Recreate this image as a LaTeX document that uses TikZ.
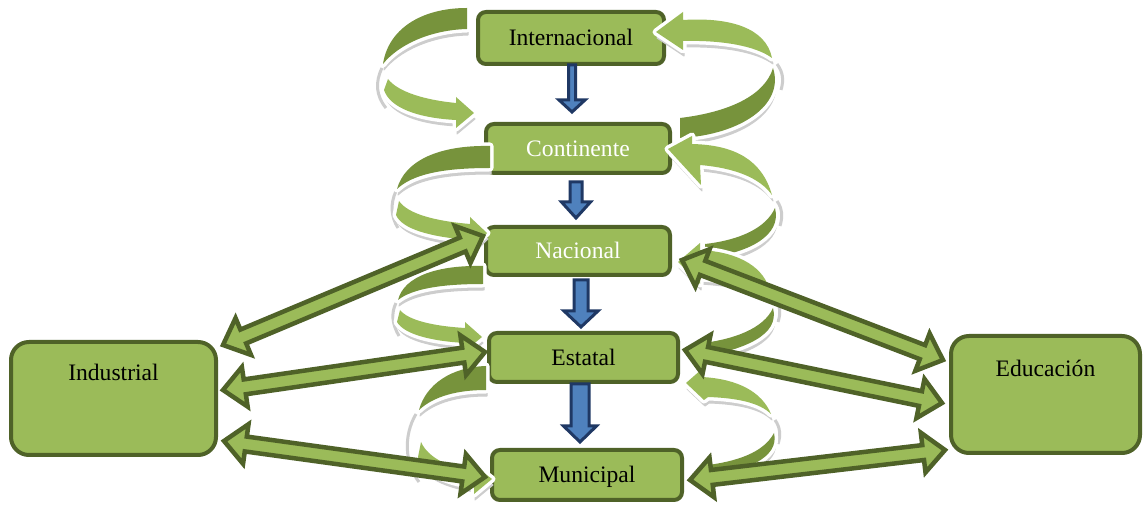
\documentclass[tikz,border=0pt]{standalone}
\usepackage{fontspec}
\setmainfont{Liberation Serif}
\usetikzlibrary{calc}
\definecolor{gfill}{HTML}{9BBB59}
\definecolor{gdark}{HTML}{77933C}
\definecolor{gline}{HTML}{4F6228}
\definecolor{bfill}{HTML}{4F81BD}
\definecolor{bline}{HTML}{1F3864}
\definecolor{shdc}{HTML}{CDCDCD}
\tikzset{
  box/.style={draw=gline, line width=4pt, fill=gfill, rounded corners=8pt,
    font=\fontsize{23.6}{28}\selectfont, inner sep=0pt, text height=16pt, text depth=0pt},
  bigbox/.style={rounded corners=18pt, text depth=52pt},
  dk/.style={preaction={draw=white, line width=7pt, line join=round}, fill=gdark},
  lt/.style={preaction={draw=white, line width=7pt, line join=round}, fill=gfill},
  shd/.style={fill=shdc, draw=shdc, line width=1pt, line join=round},
  twist/.style={draw=shdc, line width=3pt},
  dblarr/.style={draw=gline, fill=gfill, line width=4.5pt, line join=miter},
  blarr/.style={draw=bline, fill=bfill, line width=3pt, line join=miter}
}
\newcommand\dbL{22pt}
\newcommand\dbH{20pt}
\newcommand\dbW{7.5pt}
\newcommand\dblarrow[2]{%
  \draw[dblarr] (#1)
   -- ($(#1)!\dbL!(#2)!\dbH!90:(#2)$)
   -- ($(#1)!\dbL!(#2)!\dbW!90:(#2)$)
   -- ($(#2)!\dbL!(#1)!\dbW!-90:(#1)$)
   -- ($(#2)!\dbL!(#1)!\dbH!-90:(#1)$)
   -- (#2)
   -- ($(#2)!\dbL!(#1)!\dbH!90:(#1)$)
   -- ($(#2)!\dbL!(#1)!\dbW!90:(#1)$)
   -- ($(#1)!\dbL!(#2)!\dbW!-90:(#2)$)
   -- ($(#1)!\dbL!(#2)!\dbH!-90:(#2)$)
   -- cycle;}
\newcommand\bluearrow[5]{%
  \draw[blarr] ($(#1)!#3!90:(#2)$)
   -- ($(#2)!#5!(#1)!#3!-90:(#1)$)
   -- ($(#2)!#5!(#1)!#4!-90:(#1)$)
   -- (#2)
   -- ($(#2)!#5!(#1)!#4!90:(#1)$)
   -- ($(#2)!#5!(#1)!#3!90:(#1)$)
   -- ($(#1)!#3!-90:(#2)$)
   -- cycle;}
\newcommand\ribbonset[2]{%
  % left ribbons (back band dark, front band light with head)
  \path[#1] (467,8) .. controls (420,8) and (388,30) .. (383,64) .. controls (398,45) and (430,30) .. (467,29) -- cycle;
  \path[#2] (388,79) .. controls (398,92) and (425,100) .. (456,103) -- (456,97) -- (474,113) -- (456,128) -- (456,120) .. controls (418,118) and (390,108) .. (384,90) -- cycle;
  \path[#1] (490,146) .. controls (440,145) and (405,160) .. (397,189) .. controls (412,175) and (440,168) .. (490,168) -- cycle;
  \path[#2] (399,201) .. controls (408,214) and (435,221) .. (470,224) -- (470,217) -- (487,233) -- (470,250) -- (470,240) .. controls (430,237) and (402,229) .. (396,215) -- cycle;
  \path[#1] (483,266) .. controls (438,265) and (404,276) .. (398,300) .. controls (412,289) and (440,284) .. (483,284) -- cycle;
  \path[#2] (400,310) .. controls (408,320) and (432,326) .. (465,328) -- (465,322) -- (482,337) -- (465,351) -- (465,343) .. controls (430,341) and (404,334) .. (397,322) -- cycle;
  \path[#1] (486,366) .. controls (452,367) and (426,384) .. (419,410) .. controls (434,396) and (458,390) .. (486,390) -- cycle;
  \path[#2] (421,442) .. controls (428,458) and (450,468) .. (474,472) -- (474,465) -- (492,479) -- (474,494) -- (474,486) .. controls (445,482) and (424,472) .. (418,457) -- cycle;
  % right ribbons (front band light with head, back band dark)
  \path[#2] (772,58) .. controls (766,28) and (730,17) .. (683,20) -- (683,12) -- (656,32) -- (683,50) -- (683,41) .. controls (722,40) and (756,46) .. (772,58) -- cycle;
  \path[#1] (773,68) .. controls (785,105) and (740,135) .. (680,138) -- (680,118) .. controls (730,112) and (765,95) .. (773,68) -- cycle;
  \path[#2] (772,195) .. controls (762,160) and (735,145) .. (692,144) -- (692,136) -- (668,149) -- (701,185) -- (700,165) .. controls (735,168) and (760,178) .. (772,195) -- cycle;
  \path[#1] (775,208) .. controls (782,235) and (750,253) .. (705,258) -- (705,244) .. controls (740,240) and (766,228) .. (775,208) -- cycle;
  \path[#2] (770,292) .. controls (765,268) and (740,252) .. (700,250) -- (700,243) -- (678,262) -- (700,284) -- (700,278) .. controls (730,280) and (758,285) .. (770,292) -- cycle;
  \path[#1] (773,308) .. controls (780,335) and (745,350) .. (695,358) -- (695,344) .. controls (735,340) and (764,328) .. (773,308) -- cycle;
  \path[#2] (771,414) .. controls (762,392) and (738,379) .. (702,377) -- (702,369) -- (686,383) -- (704,400) -- (708,397) .. controls (738,398) and (760,403) .. (771,414) -- cycle;
  \path[#1] (774,433) .. controls (780,458) and (745,472) .. (700,478) -- (700,466) .. controls (738,462) and (764,452) .. (774,433) -- cycle;
}
\begin{document}
\begin{tikzpicture}[x=1pt,y=-1pt]
\fill[white] (0,0) rectangle (1144,510);
\useasboundingbox (0,0) rectangle (1144,510);
% boxes
\node[box, minimum width=186pt, minimum height=52pt] (int) at (571,38) {Internacional};
\node[box, text=white, minimum width=184pt, minimum height=49pt] (con) at (578,148.5) {Continente};
\node[box, text=white, minimum width=184pt, minimum height=48pt] (nac) at (578,251) {Nacional};
\node[box, minimum width=189pt, minimum height=49pt] (est) at (583.5,357.5) {Estatal};
\node[box, minimum width=190pt, minimum height=50pt] (mun) at (587,475) {Municipal};
\node[box, bigbox, minimum width=205pt, minimum height=113pt] (ind) at (113.5,398.5) {Industrial};
\node[box, bigbox, minimum width=189pt, minimum height=117pt] (edu) at (1045.5,394.5) {Educación};
% spiral ribbons: shadows first
\begin{scope}[xshift=1pt, yshift=-6pt]
  \ribbonset{shd}{shd}
  \draw[twist] (381,62) .. controls (374,76) and (375,90) .. (385,102);
  \draw[twist] (395,185) .. controls (389,198) and (390,211) .. (397,222);
  \draw[twist] (395,297) .. controls (390,307) and (391,318) .. (398,330);
  \draw[twist] (415,408) .. controls (402,430) and (404,458) .. (418,476);
  \draw[twist] (776,58) .. controls (782,66) and (783,74) .. (780,84);
  \draw[twist] (776,195) .. controls (781,202) and (782,210) .. (779,220);
  \draw[twist] (774,292) .. controls (779,299) and (780,307) .. (777,316);
  \draw[twist] (774,414) .. controls (779,421) and (780,429) .. (777,438);
\end{scope}
\ribbonset{dk}{lt}
% blue downward arrows
\coordinate (a1) at ($(int.south)+(1,-1)$);
\coordinate (b1) at ($(a1 |- con.north)+(0,-10)$);
\coordinate (a2) at ($(con.south)+(-2,7)$);
\coordinate (b2) at ($(a2 |- nac.north)+(0,-7)$);
\coordinate (a3) at ($(nac.south)+(3,3)$);
\coordinate (b3) at ($(a3 |- est.north)+(0,-4)$);
\coordinate (a4) at ($(est.south)+(-3.5,0)$);
\coordinate (b4) at ($(a4 |- mun.north)+(0,-6)$);
\bluearrow{a1}{b1}{3.5pt}{13pt}{12pt}
\bluearrow{a2}{b2}{6pt}{14.5pt}{16pt}
\bluearrow{a3}{b3}{7pt}{17pt}{16pt}
\bluearrow{a4}{b4}{9pt}{16.5pt}{16pt}
% green double arrows
\coordinate (d1a) at ($(ind.east)+(5,-53.5)$);
\coordinate (d1b) at ($(nac.west)+(-1,-15)$);
\coordinate (d2a) at ($(ind.east)+(5,-8.5)$);
\coordinate (d2b) at ($(est.west)+(-2,-5.5)$);
\coordinate (d3a) at ($(ind.east)+(6,42.5)$);
\coordinate (d3b) at ($(mun.west)+(-5,2)$);
\coordinate (d4a) at ($(nac.east)+(10,9)$);
\coordinate (d4b) at ($(edu.west)+(-6,-34.5)$);
\coordinate (d5a) at ($(est.east)+(5,-7.5)$);
\coordinate (d5b) at ($(edu.west)+(-7,8.5)$);
\coordinate (d6a) at ($(mun.east)+(6,5)$);
\coordinate (d6b) at ($(edu.west)+(-4,55.5)$);
\dblarrow{d1a}{d1b}
\dblarrow{d2a}{d2b}
\dblarrow{d3a}{d3b}
\dblarrow{d4a}{d4b}
\dblarrow{d5a}{d5b}
\dblarrow{d6a}{d6b}
\end{tikzpicture}
\end{document}
